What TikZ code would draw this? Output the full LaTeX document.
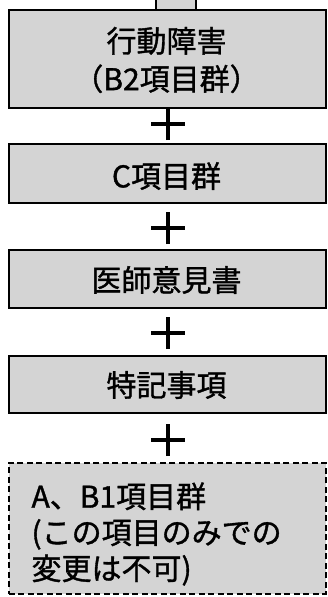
\documentclass[tikz,border=0pt]{standalone}
\usepackage{fontspec}
\setmainfont{Noto Sans CJK JP}[FakeBold=1.2]
\begin{document}
\begin{tikzpicture}[x=1pt,y=-1pt,
  box/.style={draw=black,line width=1.5pt,fill=black!17,inner sep=0pt,anchor=north west},
  dbox/.style={draw=black,line width=1.5pt,dash pattern=on 6pt off 3.5pt,fill=black!17,inner sep=0pt,anchor=north west},
  lbl/.style={font=\fontsize{30}{38}\selectfont,align=center},
  plus/.style={line width=3.5pt}]
\useasboundingbox (0,0) rectangle (327,597);
% partial box at top
\node[box,minimum width=40pt,minimum height=14pt] (top) at (155,-5) {};
\node[box,minimum width=317pt,minimum height=98pt] (b1) at (8,9) {};
\node[lbl] (t1) at (166.5,60) {行動障害\\（B2項目群）};
\node[box,minimum width=317pt,minimum height=59pt] (b2) at (8,143) {};
\node[lbl] (t2) at (166.5,176) {C項目群};
\node[box,minimum width=317pt,minimum height=58pt] (b3) at (8,249) {};
\node[lbl] (t3) at (166.5,280) {医師意見書};
\node[box,minimum width=317pt,minimum height=57pt] (b4) at (8,355) {};
\node[lbl] (t4) at (166.5,385) {特記事項};
\node[dbox,minimum width=317pt,minimum height=131pt] (b5) at (8,462) {};
\node[lbl,align=left,anchor=west,font=\fontsize{30}{36}\selectfont] (t5) at (28,534) {A、B1項目群\\(この項目のみでの\\変更は不可)};
% plus signs
\foreach \n/\yy in {p1/124,p2/228,p3/333,p4/440}{
  \coordinate (\n) at (168,\yy);
  \draw[plus] ([xshift=-17pt]\n) -- ([xshift=17pt]\n);
  \draw[plus] ([yshift=-16pt]\n) -- ([yshift=16pt]\n);
}
\end{tikzpicture}
\end{document}
